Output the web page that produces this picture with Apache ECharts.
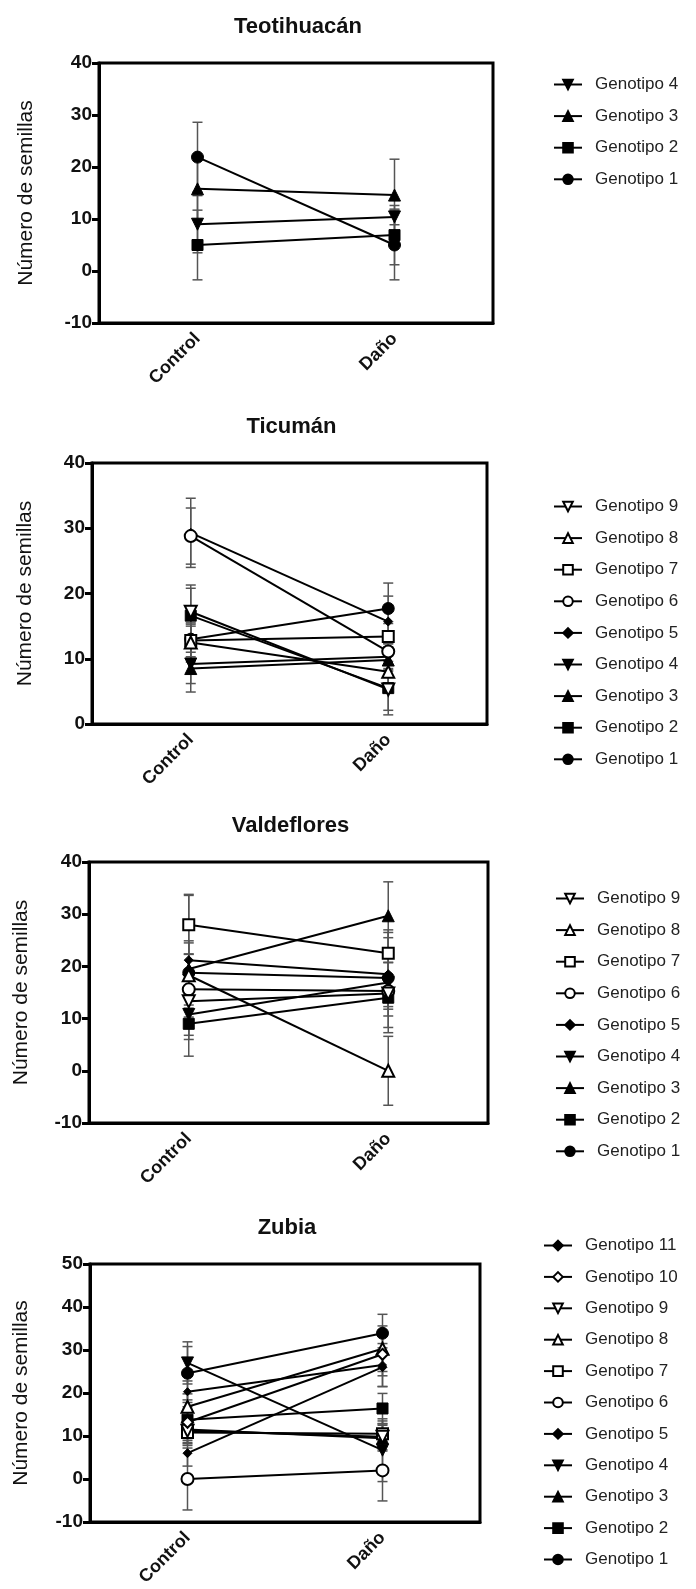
<!DOCTYPE html>
<html><head><meta charset="utf-8">
<script src="https://cdn.jsdelivr.net/npm/echarts@6/dist/echarts.min.js"></script>
<style>html,body{margin:0;padding:0;background:#fff}#c{width:696px;height:1589px}</style>
</head><body><div id="c"></div>
<script>
// ---- data ----
const categories = ['Control', 'Daño'];
const panelTitles = ['Teotihuacán', 'Ticumán', 'Valdeflores', 'Zubia'];
const yAxisName = 'Número de semillas';
const yMin = [-10, 0, -10, -10];
const yMax = [40, 40, 40, 50];
const yStep = [10, 10, 10, 10];

// Teotihuacán (Genotipo 1..4)
const teoControl = [21.9, 5.0, 15.8, 9.0];
const teoDano = [5.0, 6.9, 14.6, 10.4];
const teoErrControl = [6.7, 6.7, 5.8, 5.5];
const teoErrDano = [6.7, 5.7, 6.9, 1.5];

// Ticumán (Genotipo 1..9)
const ticControl = [13.0, 16.6, 8.5, 9.2, 29.3, 28.8, 12.8, 12.5, 17.2];
const ticDano = [17.7, 5.5, 9.8, 10.3, 15.7, 11.1, 13.4, 8.0, 5.3];
const ticErrControl = [2.0, 4.2, 3.6, 3.0, 5.3, 4.3, 2.5, 3.0, 4.1];
const ticErrDano = [3.9, 4.1, 2.5, 2.0, 3.9, 3.0, 2.0, 3.0, 3.2];

// Valdeflores (Genotipo 1..9)
const valControl = [18.8, 9.0, 19.5, 10.8, 21.2, 15.6, 28.0, 18.3, 13.3];
const valDano = [17.8, 14.0, 29.7, 16.9, 18.5, 15.3, 22.5, 0.0, 14.8];
const valErrControl = [3.5, 3.0, 5.0, 4.0, 3.7, 3.0, 5.6, 15.5, 3.0];
const valErrDano = [3.0, 6.7, 6.5, 8.6, 8.0, 3.0, 4.5, 6.6, 3.0];

// Zubia (Genotipo 1..11)
const zubControl = [24.6, 13.8, 11.5, 27.0, 6.0, 0.0, 10.8, 16.8, 11.2, 13.2, 20.3];
const zubDano = [33.9, 16.4, 9.5, 6.7, 26.0, 2.0, 10.5, 30.3, 9.8, 29.0, 26.5];
const zubErrControl = [6.2, 3.0, 3.0, 4.9, 3.0, 7.2, 3.0, 3.0, 3.0, 3.0, 2.5];
const zubErrDano = [4.4, 3.5, 3.0, 7.3, 4.5, 7.1, 3.0, 5.3, 3.0, 5.0, 5.0];

// ---- styling ----
const FONT = 'Liberation Sans, Arial, sans-serif';
const markers = [
  {symbol: 'circle', size: 12, rot: 0, open: false},
  {symbol: 'rect', size: 11, rot: 0, open: false},
  {symbol: 'triangle', size: 12, rot: 0, open: false},
  {symbol: 'triangle', size: 12, rot: 180, open: false},
  {symbol: 'diamond', size: 9, rot: 0, open: false},
  {symbol: 'circle', size: 12, rot: 0, open: true},
  {symbol: 'rect', size: 11, rot: 0, open: true},
  {symbol: 'triangle', size: 12, rot: 0, open: true},
  {symbol: 'triangle', size: 12, rot: 180, open: true},
  {symbol: 'diamond', size: 11, rot: 0, open: true},
  {symbol: 'diamond', size: 8, rot: 0, open: false}
];

const grids = [
  {left: 99, top: 63, width: 394, height: 260},
  {left: 92, top: 463, width: 395, height: 261},
  {left: 89, top: 862, width: 399, height: 261},
  {left: 90, top: 1264, width: 390, height: 258}
];
const nameGaps = [62, 56, 57, 58];
const legendPos = [
  {left: 548, top: 71, gap: 14.6},
  {left: 548, top: 493, gap: 14.6},
  {left: 550, top: 885, gap: 14.6},
  {left: 538, top: 1232, gap: 14.4}
];

const panels = [
  [teoControl, teoDano, teoErrControl, teoErrDano],
  [ticControl, ticDano, ticErrControl, ticErrDano],
  [valControl, valDano, valErrControl, valErrDano],
  [zubControl, zubDano, zubErrControl, zubErrDano]
];

const option = {
  animation: false,
  backgroundColor: '#fff',
  title: [], grid: [], xAxis: [], yAxis: [], legend: [], series: []
};

panels.forEach((p, i) => {
  const [ctrl, dano, eC, eD] = p;
  const g = grids[i];
  option.grid.push(Object.assign({show: true, borderColor: '#000', borderWidth: 3, backgroundColor: 'transparent'}, g));
  option.title.push({
    text: panelTitles[i], left: g.left + g.width / 2 - 3, top: g.top - 52, textAlign: 'center',
    textStyle: {fontFamily: FONT, fontSize: 22, fontWeight: 'bold', color: '#111'}
  });
  option.xAxis.push({
    type: 'category', gridIndex: i, data: categories, boundaryGap: true,
    axisLine: {onZero: false, lineStyle: {color: '#000', width: 3}},
    axisTick: {alignWithLabel: true, length: 7, lineStyle: {color: '#000', width: 3}},
    axisLabel: {rotate: 45, margin: 13, fontFamily: FONT, fontSize: 18, fontWeight: 'bold', color: '#111'},
    splitLine: {show: false}
  });
  option.yAxis.push({
    type: 'value', gridIndex: i, min: yMin[i], max: yMax[i], interval: yStep[i],
    name: yAxisName, nameLocation: 'middle', nameGap: nameGaps[i],
    nameTextStyle: {fontFamily: FONT, fontSize: 21, color: '#111'},
    axisLine: {show: true, onZero: false, lineStyle: {color: '#000', width: 3}},
    axisTick: {show: true, length: 7, lineStyle: {color: '#000', width: 3}},
    axisLabel: {margin: 7, fontFamily: FONT, fontSize: 19, fontWeight: 'bold', color: '#111'},
    splitLine: {show: false}
  });
  const names = [];
  ctrl.forEach((v, k) => {
    const m = markers[k];
    const name = 'Genotipo ' + (k + 1);
    names.push(name);
    option.series.push({
      type: 'line', name: name, xAxisIndex: i, yAxisIndex: i,
      data: [ctrl[k], dano[k]],
      symbol: m.symbol, symbolSize: m.size, symbolRotate: m.rot, showAllSymbol: true,
      lineStyle: {color: '#000', width: 2},
      itemStyle: m.open ? {color: '#fff', borderColor: '#000', borderWidth: 2} : {color: '#000', borderColor: '#000', borderWidth: 1},
      z: 3
    });
  });
  const errData = [];
  ctrl.forEach((v, k) => {
    errData.push([0, ctrl[k], eC[k]]);
    errData.push([1, dano[k], eD[k]]);
  });
  option.series.push({
    type: 'custom', xAxisIndex: i, yAxisIndex: i, z: 2, silent: true,
    data: errData, encode: {x: 0, y: 1},
    renderItem: (params, api) => {
      const x = api.value(0), y = api.value(1), e = api.value(2);
      const t = api.coord([x, y + e]);
      const b = api.coord([x, y - e]);
      const w = 5;
      const st = {stroke: '#555', lineWidth: 1.5};
      return {type: 'group', children: [
        {type: 'line', shape: {x1: t[0], y1: t[1], x2: b[0], y2: b[1]}, style: st},
        {type: 'line', shape: {x1: t[0] - w, y1: t[1], x2: t[0] + w, y2: t[1]}, style: st},
        {type: 'line', shape: {x1: b[0] - w, y1: b[1], x2: b[0] + w, y2: b[1]}, style: st}
      ]};
    }
  });
  const lp = legendPos[i];
  option.legend.push({
    data: names.slice().reverse(), orient: 'vertical', left: lp.left, top: lp.top, itemGap: lp.gap,
    itemWidth: 28, itemHeight: 12, selectedMode: false,
    textStyle: {fontFamily: FONT, fontSize: 17, color: '#222', lineHeight: 16, padding: [0, 0, 0, 8]}
  });
});

const chart = echarts.init(document.getElementById('c'), null, {renderer: 'canvas'});
chart.setOption(option);
</script></body></html>
